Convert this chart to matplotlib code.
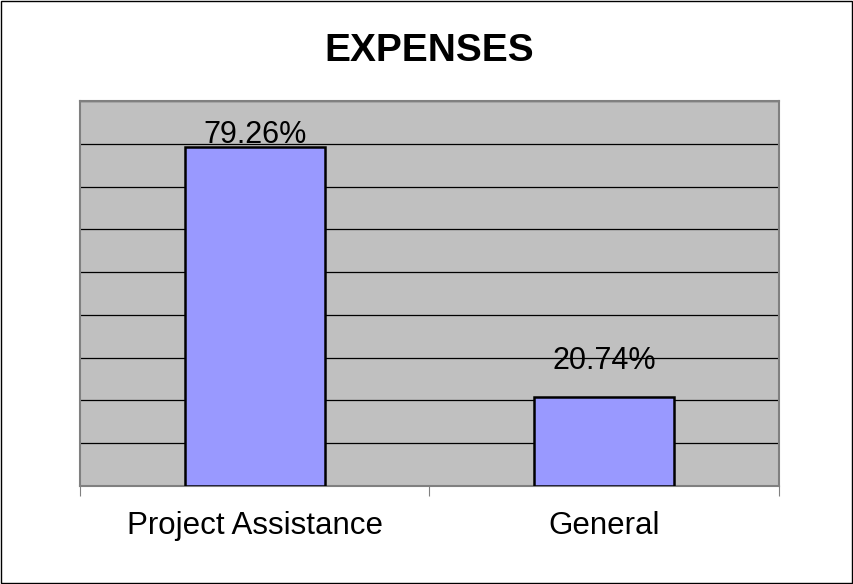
import matplotlib.pyplot as plt
from matplotlib.patches import Rectangle

plt.rcParams["font.family"] = ["Liberation Sans", "DejaVu Sans"]

categories = ["Project Assistance", "General"]
shares = [79.26, 20.74]
labels = ["79.26%", "20.74%"]

fig = plt.figure(figsize=(8.54, 5.84), dpi=100)
fig.patches.append(Rectangle((0.001, 0.001), 0.997, 0.997, transform=fig.transFigure,
                             fill=False, edgecolor="black", linewidth=1))

ax = fig.add_axes([0.0937, 0.168, 0.818, 0.659])
ax.set_facecolor("#c0c0c0")

x = list(range(len(categories)))
ax.bar(x, shares, width=0.4, color="#9999ff", edgecolor="black", linewidth=1.8, zorder=3)

# labels sit above the bar, but are kept inside the plot area
for xi, v, lab in zip(x, shares, labels):
    ax.text(xi, min(v + 6.6, 80.2), lab, ha="center", va="baseline", fontsize=22, zorder=2.5)

ax.set_xlim(-0.5, 1.5)
ax.set_ylim(0, 90)
ax.set_yticks(range(0, 91, 10))
ax.set_yticklabels([])
ax.tick_params(axis="y", length=0)
ax.grid(axis="y", color="black", linewidth=0.9, zorder=1)

ax.set_xticks([-0.5, 0.5, 1.5])
ax.set_xticklabels([])
ax.set_xticks(x, minor=True)
ax.set_xticklabels(categories, minor=True, fontsize=22.5)
ax.tick_params(axis="x", which="major", length=7, color="#808080", direction="out")
ax.tick_params(axis="x", which="minor", length=0, pad=18)

for s in ax.spines.values():
    s.set_color("#808080")
    s.set_linewidth(1.5)

fig.text(0.5025, 0.913, "EXPENSES", ha="center", va="center", fontsize=28, fontweight="bold")

fig.savefig("out.png", dpi=100)
